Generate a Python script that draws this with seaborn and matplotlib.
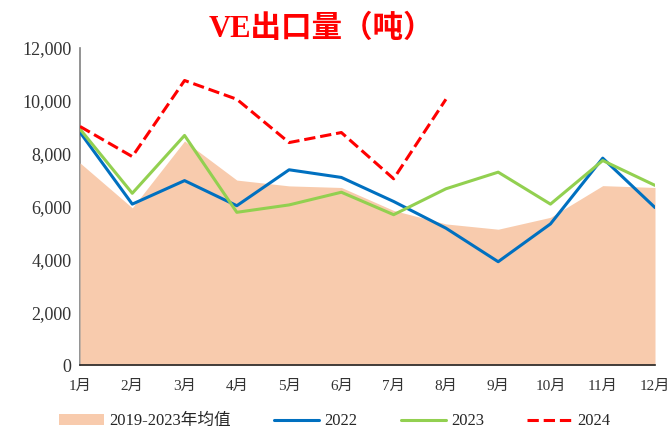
import matplotlib
matplotlib.use("Agg")
import matplotlib.pyplot as plt
import seaborn as sns
import pandas as pd
import numpy as np
from matplotlib.patches import Patch
from matplotlib.lines import Line2D

months = ["1月", "2月", "3月", "4月", "5月", "6月", "7月", "8月", "9月", "10月", "11月", "12月"]
avg_2019_2023 = [7650, 5950, 8480, 7000, 6780, 6720, 5850, 5340, 5140, 5590, 6790, 6720]
y2022 = [8810, 6090, 6980, 6030, 7390, 7100, 6190, 5180, 3910, 5340, 7830, 5960]
y2023 = [8930, 6500, 8690, 5780, 6060, 6540, 5690, 6670, 7300, 6090, 7740, 6800]
y2024 = [9030, 7890, 10770, 10060, 8420, 8800, 7050, 10060]
yticks = [0, 2000, 4000, 6000, 8000, 10000, 12000]

sns.set_style("white")
fam = ["Liberation Serif", "Noto Sans CJK SC"]
plt.rcParams["font.family"] = fam

fig = plt.figure(figsize=(6.67, 4.30), dpi=100)
ax = fig.add_axes([80 / 667, (430 - 365) / 430, (655 - 80) / 667, (365 - 48) / 430])

x = np.arange(len(months))
ax.fill_between(x, 0, avg_2019_2023, color="#F8CBAD", lw=0, zorder=1)

df = pd.DataFrame({
    "x": list(x) * 2 + list(range(len(y2024))),
    "v": y2022 + y2023 + y2024,
    "s": ["2022"] * 12 + ["2023"] * 12 + ["2024"] * len(y2024),
})
pal = {"2022": "#0070C0", "2023": "#92D050", "2024": "#FF0000"}
for s in ["2022", "2023", "2024"]:
    sub = df[df["s"] == s]
    sns.lineplot(data=sub, x="x", y="v", ax=ax, color=pal[s], lw=2.2,
                 linestyle="--" if s == "2024" else "-", legend=False, zorder=3)

ax.set_xlim(0, 11)
ax.set_ylim(0, 12000)
ax.set_xticks(x)
ax.set_xticklabels(months, fontsize=11, family=fam)
ax.set_yticks(yticks)
ax.set_yticklabels([f"{v:,}" for v in yticks], fontsize=13, family=fam)
ax.set_xlabel("")
ax.set_ylabel("")
ax.set_axisbelow(True)
ax.tick_params(axis="both", direction="in", length=4, width=1, colors="#333333", pad=6)
ax.tick_params(axis="x", pad=11)
for sp in ["top", "right"]:
    ax.spines[sp].set_visible(False)
ax.spines["left"].set_color("#808080")
ax.spines["left"].set_linewidth(1.2)
ax.spines["bottom"].set_color("#222222")
ax.spines["bottom"].set_linewidth(1.2)
ax.spines["left"].set_zorder(0.6)

fig.text(0.482, 0.932, "VE出口量（吨）", color="#FF0000", fontsize=22, fontweight="bold",
         ha="center", va="center", family=["Liberation Serif", "Noto Sans CJK SC"])

handles = [
    Patch(facecolor="#F8CBAD", edgecolor="none", label="2019-2023年均值"),
    Line2D([], [], color="#0070C0", lw=2.2, label="2022"),
    Line2D([], [], color="#92D050", lw=2.2, label="2023"),
    Line2D([], [], color="#FF0000", lw=2.2, ls="--", label="2024"),
]
fig.legend(handles=handles, loc="center", bbox_to_anchor=(0.502, 0.02), ncol=4, frameon=False,
           prop={"family": fam, "size": 12}, handlelength=2.7, handleheight=0.6,
           columnspacing=2.6, handletextpad=0.3)

fig.savefig("out.png", dpi=100)
